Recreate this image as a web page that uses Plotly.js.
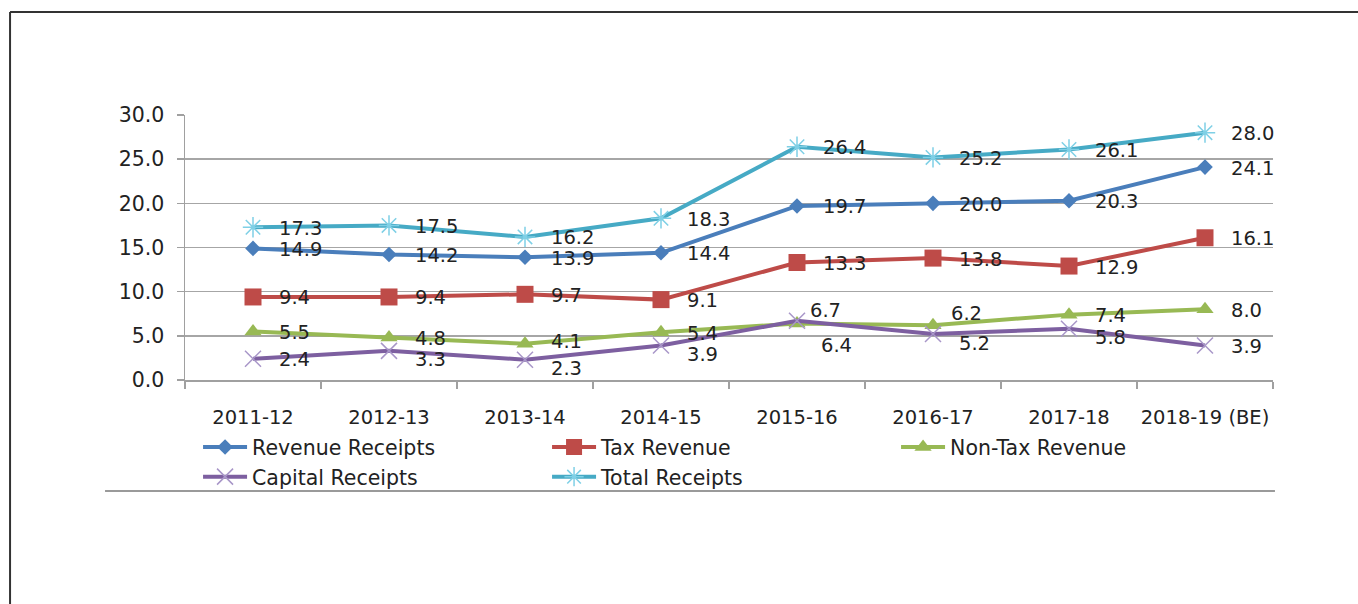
<!DOCTYPE html>
<html>
<head>
<meta charset="utf-8">
<script src="https://cdn.plot.ly/plotly-3.0.1.min.js"></script>
<style>
html, body { margin: 0; padding: 0; background: #ffffff; }
#chart { width: 1358px; height: 604px; }
</style>
</head>
<body>
<div id="chart"></div>
<script>
// ---- Data ----
var categories = ["2011-12", "2012-13", "2013-14", "2014-15", "2015-16", "2016-17", "2017-18", "2018-19 (BE)"];
var revenueReceipts = [14.9, 14.2, 13.9, 14.4, 19.7, 20.0, 20.3, 24.1];
var taxRevenue      = [9.4, 9.4, 9.7, 9.1, 13.3, 13.8, 12.9, 16.1];
var nonTaxRevenue   = [5.5, 4.8, 4.1, 5.4, 6.4, 6.2, 7.4, 8.0];
var capitalReceipts = [2.4, 3.3, 2.3, 3.9, 6.7, 5.2, 5.8, 3.9];
var totalReceipts   = [17.3, 17.5, 16.2, 18.3, 26.4, 25.2, 26.1, 28.0];
var seriesNames = ["Revenue Receipts", "Tax Revenue", "Non-Tax Revenue", "Capital Receipts", "Total Receipts"];
var yTickValues = [0, 5, 10, 15, 20, 25, 30];

// ---- Label placement codes (style, not data) ----
var labelPos = [
  ["R","R","R","R","R","R","R","R"],
  ["R","R","R","R","R","R","R","R"],
  ["R","R","Ru","R","DD","U2","R","R"],
  ["R","D","D","D","U","D","D","R"],
  ["R","R","R","R","R","R","R","R"]
];
var posShift = {
  R:  {x: 24, y: -1},
  Ru: {x: 24, y: 2},
  D:  {x: 24, y: -9},
  DD: {x: 22, y: -22},
  U:  {x: 11, y: 10},
  U2: {x: 16, y: 12}
};

var allSeries = [revenueReceipts, taxRevenue, nonTaxRevenue, capitalReceipts, totalReceipts];
var lineColors = ["#4a7ebb", "#be4b48", "#98b954", "#7d5fa0", "#46aac5"];
var markers = [
  {symbol: "diamond", size: 12, color: "#4a7ebb", line: {width: 0}},
  {symbol: "square", size: 17, color: "#be4b48", line: {width: 0}},
  {symbol: "triangle-up", size: 15, color: "#98b954", line: {width: 0}},
  {symbol: "x-thin-open", size: 16, color: "#a896c8", line: {width: 1.5, color: "#a896c8"}},
  {symbol: "asterisk-open", size: 17, color: "#7fd0e6", line: {width: 1.5, color: "#7fd0e6"}}
];

var traces = [];
var annotations = [];
allSeries.forEach(function (vals, s) {
  traces.push({
    type: "scatter",
    mode: "lines+markers",
    name: seriesNames[s],
    x: categories,
    y: vals,
    line: {color: lineColors[s], width: 4},
    marker: markers[s],
    hoverinfo: "x+y+name"
  });
  vals.forEach(function (v, i) {
    var sh = posShift[labelPos[s][i]];
    annotations.push({
      x: categories[i], y: v, xref: "x", yref: "y",
      text: v.toFixed(1), showarrow: false,
      xanchor: "left", yanchor: "middle",
      xshift: sh.x, yshift: sh.y,
      font: {family: "DejaVu Sans", size: 19.5, color: "#222222"}
    });
  });
});

var layout = {
  width: 1358, height: 604,
  paper_bgcolor: "#ffffff", plot_bgcolor: "#ffffff",
  margin: {l: 185, r: 85, t: 115, b: 224, autoexpand: false},
  font: {family: "DejaVu Sans", color: "#222222"},
  showlegend: true,
  legend: {
    orientation: "h",
    x: 0.012, y: -0.178, xanchor: "left", yanchor: "top",
    font: {family: "DejaVu Sans", size: 20.5, color: "#222222"},
    entrywidth: 290, entrywidthmode: "pixels",
    itemwidth: 44,
    bgcolor: "rgba(0,0,0,0)", borderwidth: 0,
    traceorder: "normal"
  },
  xaxis: {
    type: "category",
    range: [-0.5, 7.5],
    showgrid: false,
    showline: true, linecolor: "#a0a0a0", linewidth: 1.5,
    ticks: "outside", ticklen: 7, tickcolor: "#a0a0a0", tickwidth: 1.5,
    tickson: "boundaries",
    tickangle: 0,
    ticklabelstandoff: 19,
    tickfont: {family: "DejaVu Sans", size: 19.5, color: "#222222"},
    zeroline: false, fixedrange: true
  },
  yaxis: {
    range: [0, 30],
    tickvals: yTickValues,
    ticktext: yTickValues.map(function (t) { return t.toFixed(1); }),
    showgrid: true, gridcolor: "#a6a6a6", gridwidth: 1.5,
    showline: true, linecolor: "#a0a0a0", linewidth: 1.5,
    ticks: "outside", ticklen: 7, tickcolor: "#a0a0a0", tickwidth: 1.5,
    ticklabelstandoff: 8,
    tickfont: {family: "DejaVu Sans", size: 20.5, color: "#222222"},
    zeroline: false, fixedrange: true
  },
  annotations: annotations,
  shapes: [
    {type: "line", xref: "paper", yref: "paper", x0: -0.0735, x1: 1.0018, y0: -0.419, y1: -0.419,
     line: {color: "#9a9a9a", width: 2}},
    {type: "line", xref: "paper", yref: "paper", x0: -0.1608, x1: -0.1608, y0: -0.86, y1: 1.3887,
     line: {color: "#333333", width: 2}},
    {type: "line", xref: "paper", yref: "paper", x0: -0.1608, x1: 1.08, y0: 1.3887, y1: 1.3887,
     line: {color: "#333333", width: 2}}
  ]
};

Plotly.newPlot("chart", traces, layout, {displayModeBar: false, staticPlot: true});
</script>
</body>
</html>
